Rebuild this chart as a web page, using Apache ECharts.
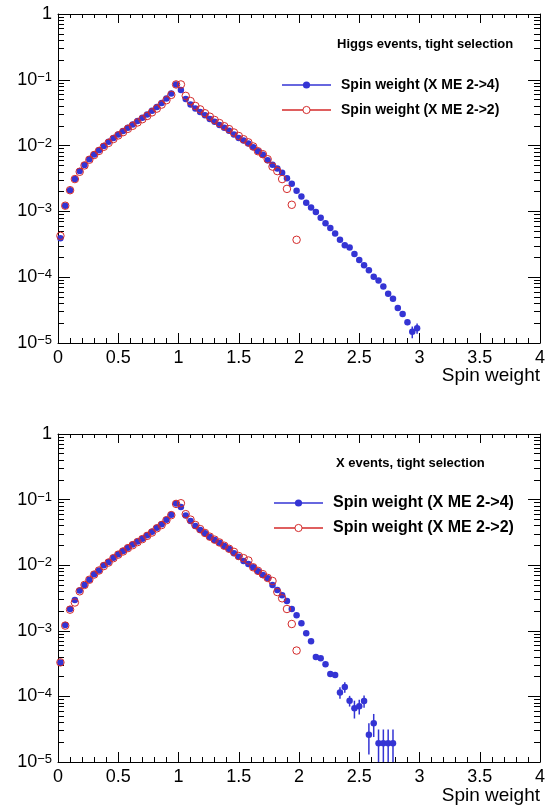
<!DOCTYPE html>
<html>
<head>
<meta charset="utf-8">
<script src="https://cdn.jsdelivr.net/npm/echarts@6/dist/echarts.min.js"></script>
<style>
  html, body { margin: 0; padding: 0; background: #fff; }
  #chart { width: 549px; height: 807px; }
</style>
</head>
<body>
<div id="chart"></div>
<script>
// bin centres (bin width 0.04)
const binsTo298 = [0.02,0.06,0.10,0.14,0.18,0.22,0.26,0.30,0.34,0.38,0.42,0.46,0.50,0.54,0.58,0.62,0.66,0.70,0.74,0.78,
  0.82,0.86,0.90,0.94,0.98,1.02,1.06,1.10,1.14,1.18,1.22,1.26,1.30,1.34,1.38,1.42,1.46,1.50,1.54,1.58,
  1.62,1.66,1.70,1.74,1.78,1.82,1.86,1.90,1.94,1.98,2.02,2.06,2.10,2.14,2.18,2.22,2.26,2.30,2.34,2.38,
  2.42,2.46,2.50,2.54,2.58,2.62,2.66,2.70,2.74,2.78,2.82,2.86,2.90,2.94,2.98];

// Higgs events, tight selection
const higgsME24 = [3.9e-4,1.22e-3,2.1e-3,3.1e-3,4.1e-3,5.05e-3,6.2e-3,7.3e-3,8.5e-3,9.9e-3,1.14e-2,1.30e-2,1.48e-2,1.66e-2,1.87e-2,
  2.10e-2,2.36e-2,2.65e-2,2.98e-2,3.39e-2,3.86e-2,4.43e-2,5.2e-2,6.2e-2,8.5e-2,7.0e-2,5.1e-2,4.23e-2,3.67e-2,3.23e-2,
  2.88e-2,2.53e-2,2.30e-2,2.05e-2,1.87e-2,1.68e-2,1.48e-2,1.31e-2,1.20e-2,1.08e-2,9.4e-3,8.2e-3,7.25e-3,6.0e-3,5.1e-3,
  4.5e-3,3.86e-3,3.2e-3,2.63e-3,2.06e-3,1.69e-3,1.35e-3,1.15e-3,9.8e-4,8.0e-4,6.6e-4,5.6e-4,4.6e-4,3.7e-4,3.07e-4,
  2.83e-4,2.26e-4,1.83e-4,1.52e-4,1.28e-4,1.02e-4,8.9e-5,7.2e-5,5.6e-5,4.7e-5,3.4e-5,2.75e-5,2.07e-5,1.48e-5,1.68e-5];
const higgsME24Err = [0,0,0,0,0,0,0,0,0,0,0,0,0,0,0,0,0,0,0,0,0,0,0,0,0,0,0,0,0,0,0,0,0,0,0,0,0,0,0,0,0,0,0,0,0,
  0,0,0,0,0,0,0,0,0,0,0,0,0,0,0,0,0,0,0,0,0,0,0,0,0,0,0,2e-6,3e-6,3e-6];
const higgsME22 = [4.25e-4,1.22e-3,2.1e-3,3.1e-3,4.0e-3,5.0e-3,6.1e-3,7.2e-3,8.3e-3,9.6e-3,1.1e-2,1.26e-2,1.43e-2,1.60e-2,1.80e-2,
  2.0e-2,2.25e-2,2.52e-2,2.82e-2,3.2e-2,3.65e-2,4.2e-2,4.9e-2,5.9e-2,8.5e-2,8.5e-2,5.7e-2,4.75e-2,4.0e-2,3.55e-2,
  3.1e-2,2.75e-2,2.45e-2,2.2e-2,1.97e-2,1.78e-2,1.58e-2,1.40e-2,1.25e-2,1.12e-2,9.7e-3,8.2e-3,7.4e-3,6.2e-3,4.8e-3,
  4.1e-3,3.1e-3,2.2e-3,1.26e-3,3.7e-4];

// X events, tight selection
const xME24 = [3.3e-4,1.23e-3,2.15e-3,2.95e-3,4.1e-3,5.0e-3,6.0e-3,7.3e-3,8.3e-3,1.0e-2,1.12e-2,1.30e-2,1.47e-2,1.65e-2,1.85e-2,
  2.06e-2,2.29e-2,2.54e-2,2.85e-2,3.24e-2,3.73e-2,4.2e-2,4.94e-2,5.9e-2,8.7e-2,7.7e-2,5.7e-2,4.72e-2,3.96e-2,3.44e-2,
  3.06e-2,2.69e-2,2.42e-2,2.2e-2,1.96e-2,1.77e-2,1.52e-2,1.35e-2,1.16e-2,1.04e-2,9.3e-3,8.07e-3,7.1e-3,6.3e-3,5.0e-3,
  4.2e-3,3.47e-3,2.85e-3,2.15e-3,1.72e-3,1.3e-3,9.2e-4,6.9e-4,4.0e-4,3.8e-4,3.1e-4,2.19e-4,2.12e-4,1.15e-4,1.39e-4,
  8.6e-5,6.6e-5,7.1e-5,8.5e-5,2.6e-5,3.9e-5,1.93e-5,1.93e-5,1.93e-5,1.93e-5];
const xME24Err = [0,0,0,0,0,0,0,0,0,0,0,0,0,0,0,0,0,0,0,0,0,0,0,0,0,0,0,0,0,0,0,0,0,0,0,0,0,0,0,0,0,0,0,0,0,
  0,0,0,0,0,0,0,0,2.5e-5,2.5e-5,2.2e-5,2.0e-5,2.0e-5,2.3e-5,2.5e-5,
  1.6e-5,2.0e-5,1.8e-5,1.8e-5,1.3e-5,1.5e-5,1.2e-5,1.2e-5,1.2e-5,1.2e-5];
const xME22 = [3.3e-4,1.2e-3,2.1e-3,2.7e-3,4.0e-3,5.0e-3,6.0e-3,7.2e-3,8.3e-3,9.7e-3,1.1e-2,1.28e-2,1.45e-2,1.62e-2,1.82e-2,
  2.02e-2,2.25e-2,2.5e-2,2.8e-2,3.15e-2,3.65e-2,4.1e-2,4.85e-2,5.8e-2,8.6e-2,8.8e-2,6.0e-2,4.95e-2,4.1e-2,3.55e-2,
  3.1e-2,2.72e-2,2.45e-2,2.22e-2,1.98e-2,1.78e-2,1.6e-2,1.38e-2,1.28e-2,1.18e-2,9.3e-3,8.2e-3,7.3e-3,6.4e-3,5.75e-3,
  3.9e-3,3.13e-3,2.15e-3,1.27e-3,5.0e-4];

const seriesNames = ['Spin weight (X ME 2->4)', 'Spin weight (X ME 2->2)'];
const panelTitles = ['Higgs events, tight selection', 'X events, tight selection'];
const yMajor = [1e-5, 1e-4, 1e-3, 1e-2, 1e-1, 1];
const xTitle = 'Spin weight';

const BLUE = '#3434d4';
const RED = '#d42a2a';
const FONT = '"Liberation Sans", Arial, Helvetica, sans-serif';
const HALF_BIN = 0.02;
const Y_MIN = 1e-5, Y_MAX = 1;

let yMinor = [];
for (let d = 1e-5; d < 0.5; d *= 10) {
  for (let m = 2; m <= 9; m++) yMinor.push(m * d);
}

function pairs(xs, ys) {
  return ys.map((v, i) => [xs[i], v]);
}

function yLabel(v) {
  let e = Math.round(Math.log10(v));
  if (e === 0) return '{b|1}';
  return '{b|10}{s|\u2212' + (-e) + '}';
}

const grids = [
  { left: 58, right: 9, top: 14, height: 329, outerBoundsMode: 'none', containLabel: false },
  { left: 58, right: 9, top: 434, height: 328, outerBoundsMode: 'none', containLabel: false }
];

let xAxis = [], yAxis = [], series = [];

grids.forEach((g, gi) => {
  xAxis.push({
    gridIndex: gi, type: 'value', min: 0, max: 4, interval: 0.5, position: 'bottom',
    axisLine: { lineStyle: { color: '#000', width: 1 } },
    axisTick: { inside: true, length: 10, lineStyle: { color: '#000' } },
    minorTick: { show: true, splitNumber: 5, length: 5, lineStyle: { color: '#000' } },
    splitLine: { show: false },
    axisLabel: { fontSize: 18, color: '#000', margin: 6, fontFamily: FONT, hideOverlap: false }
  });
  xAxis.push({
    gridIndex: gi, type: 'value', min: 0, max: 4, interval: 0.5, position: 'top',
    axisLine: { lineStyle: { color: '#000', width: 1 } },
    axisTick: { inside: true, length: 9, lineStyle: { color: '#000' } },
    minorTick: { show: true, splitNumber: 5, length: 4, lineStyle: { color: '#000' } },
    splitLine: { show: false },
    axisLabel: { show: false }
  });
  // left: major ticks + labels, minor ticks
  yAxis.push({
    gridIndex: gi, type: 'log', logBase: 10, min: Y_MIN, max: Y_MAX, position: 'left',
    axisLine: { show: true, lineStyle: { color: '#000', width: 1 } },
    axisTick: { inside: true, length: 12, lineStyle: { color: '#000' }, customValues: yMajor },
    splitLine: { show: false },
    axisLabel: {
      customValues: yMajor, margin: 6, color: '#000', fontFamily: FONT,
      formatter: yLabel,
      rich: {
        b: { fontSize: 18, color: '#000', fontFamily: FONT },
        s: { fontSize: 13, color: '#000', fontFamily: FONT, verticalAlign: 'top' }
      }
    }
  });
  yAxis.push({
    gridIndex: gi, type: 'log', logBase: 10, min: Y_MIN, max: Y_MAX, position: 'left',
    axisLine: { show: false },
    axisTick: { inside: true, length: 6, lineStyle: { color: '#000' }, customValues: yMinor },
    splitLine: { show: false },
    axisLabel: { show: false }
  });
  // right frame side
  yAxis.push({
    gridIndex: gi, type: 'log', logBase: 10, min: Y_MIN, max: Y_MAX, position: 'right',
    axisLine: { show: true, lineStyle: { color: '#000', width: 1 } },
    axisTick: { inside: true, length: 12, lineStyle: { color: '#000' }, customValues: yMajor },
    splitLine: { show: false },
    axisLabel: { show: false }
  });
  yAxis.push({
    gridIndex: gi, type: 'log', logBase: 10, min: Y_MIN, max: Y_MAX, position: 'right',
    axisLine: { show: false },
    axisTick: { inside: true, length: 6, lineStyle: { color: '#000' }, customValues: yMinor },
    splitLine: { show: false },
    axisLabel: { show: false }
  });
});

function errorSeries(xs, ys, errs, xi, yi) {
  let data = [];
  ys.forEach((v, i) => { if (errs[i]) data.push([xs[i], v, errs[i]]); });
  return {
    type: 'custom', xAxisIndex: xi, yAxisIndex: yi, data: data, z: 1, silent: true,
    encode: { x: 0, y: 1 },
    renderItem: function (params, api) {
      let x = api.value(0), y = api.value(1), e = api.value(2);
      let lo = Math.max(y - e, Y_MIN);
      let pHi = api.coord([x, y + e]);
      let pLo = api.coord([x, lo]);
      let pL = api.coord([x - HALF_BIN, y]);
      let pR = api.coord([x + HALF_BIN, y]);
      return {
        type: 'group',
        children: [
          { type: 'line', shape: { x1: pHi[0], y1: pHi[1], x2: pLo[0], y2: pLo[1] }, style: { stroke: BLUE, lineWidth: 1.5 } },
          { type: 'line', shape: { x1: pL[0], y1: pL[1], x2: pR[0], y2: pR[1] }, style: { stroke: BLUE, lineWidth: 1.5 } }
        ]
      };
    }
  };
}

const panelData = [
  { blue: higgsME24, blueErr: higgsME24Err, red: higgsME22 },
  { blue: xME24, blueErr: xME24Err, red: xME22 }
];

panelData.forEach((p, gi) => {
  let xi = gi * 2, yi = gi * 4;
  series.push(errorSeries(binsTo298, p.blue, p.blueErr, xi, yi));
  series.push({
    name: seriesNames[0], type: 'scatter', xAxisIndex: xi, yAxisIndex: yi,
    data: pairs(binsTo298, p.blue), symbol: 'circle', symbolSize: 6.5, z: 2,
    itemStyle: { color: BLUE, opacity: 1 }
  });
  series.push({
    name: seriesNames[1], type: 'scatter', xAxisIndex: xi, yAxisIndex: yi,
    data: pairs(binsTo298, p.red), symbol: 'circle', symbolSize: 7.5, z: 3,
    itemStyle: { color: 'rgba(0,0,0,0)', borderColor: RED, borderWidth: 1, opacity: 1 }
  });
});

// header text, legend and x title, drawn as graphics
function legendBlock(lineX0, lineX1, textX, rowY, fontSize) {
  let els = [];
  let mid = (lineX0 + lineX1) / 2;
  [BLUE, RED].forEach((c, i) => {
    let y = rowY[i];
    els.push({ type: 'line', shape: { x1: lineX0, y1: y, x2: lineX1, y2: y }, style: { stroke: c, lineWidth: 1.5 } });
    els.push({ type: 'circle', shape: { cx: mid, cy: y, r: 3.6 },
      style: i === 0 ? { fill: c } : { fill: '#fff', stroke: c, lineWidth: 1 } });
    els.push({ type: 'text', x: textX, y: y,
      style: { text: seriesNames[i], fontSize: fontSize, fontWeight: 'bold', fontFamily: FONT, fill: '#000', verticalAlign: 'middle', align: 'left' } });
  });
  return els;
}

let graphic = [];
graphic.push({ type: 'text', x: 337, y: 44, style: { text: panelTitles[0], fontSize: 13, fontWeight: 'bold', fontFamily: FONT, fill: '#000', verticalAlign: 'middle' } });
graphic.push({ type: 'text', x: 336, y: 463, style: { text: panelTitles[1], fontSize: 13, fontWeight: 'bold', fontFamily: FONT, fill: '#000', verticalAlign: 'middle' } });
graphic = graphic.concat(legendBlock(282, 331, 341, [85, 110], 14));
graphic = graphic.concat(legendBlock(274, 323, 333, [503, 528], 16));
[376, 796].forEach(y => {
  graphic.push({ type: 'text', x: 540, y: y, style: { text: xTitle, fontSize: 19, fontFamily: FONT, fill: '#000', align: 'right', verticalAlign: 'middle' } });
});

const option = {
  animation: false,
  backgroundColor: '#fff',
  grid: grids,
  xAxis: xAxis,
  yAxis: yAxis,
  series: series,
  graphic: graphic
};

const myChart = echarts.init(document.getElementById('chart'), null, { renderer: 'canvas' });
myChart.setOption(option);
</script>
</body>
</html>
